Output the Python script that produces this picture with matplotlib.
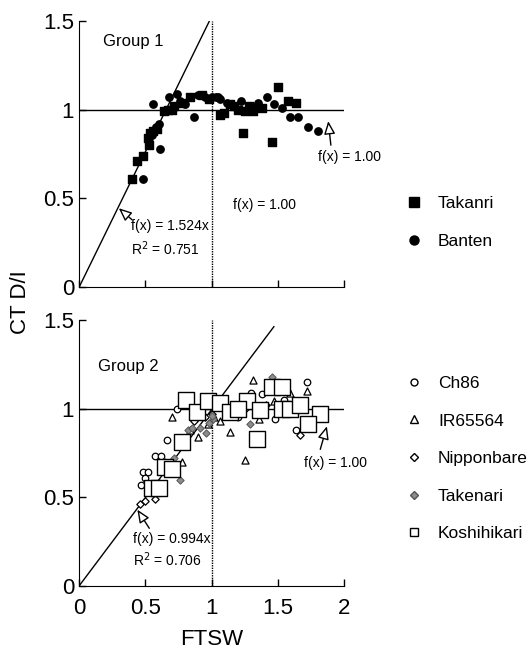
import numpy as np
import matplotlib.pyplot as plt
from matplotlib.lines import Line2D

plt.rcParams['font.family'] = ['Liberation Sans', 'DejaVu Sans']

# Group 1 data
takanri_x = [0.40, 0.435, 0.48, 0.52, 0.535, 0.56, 0.59, 0.64, 0.70, 0.775, 0.84, 0.925, 0.98, 1.065, 1.09,
             1.14, 1.20, 1.235, 1.28, 1.315, 1.38, 1.455, 1.50, 1.58, 1.64, 0.53, 0.67, 0.72, 1.17, 1.25]
takanri_y = [0.61, 0.71, 0.74, 0.84, 0.87, 0.88, 0.89, 0.99, 1.00, 1.04, 1.07, 1.08, 1.06, 0.97, 0.98,
             1.03, 1.00, 0.87, 1.02, 0.99, 1.01, 0.82, 1.13, 1.05, 1.04, 0.80, 1.00, 1.02, 1.02, 0.99]
banten_x = [0.48, 0.61, 0.60, 0.555, 0.68, 0.74, 0.80, 0.87, 1.03, 1.05, 1.065, 1.415, 1.35, 1.47, 1.53,
            1.59, 1.655, 1.73, 1.80, 0.53, 0.55, 0.58, 0.90, 0.95, 1.00, 1.12, 1.22, 1.30, 0.76]
banten_y = [0.61, 0.78, 0.92, 1.03, 1.07, 1.09, 1.03, 0.96, 1.07, 1.07, 1.06, 1.07, 1.04, 1.03, 1.01,
            0.96, 0.96, 0.90, 0.88, 0.82, 0.86, 0.90, 1.08, 1.07, 1.07, 1.04, 1.05, 1.02, 1.05]

# Group 2 data
ch86_x = [0.74, 0.66, 0.57, 0.62, 0.485, 0.52, 0.47, 0.50, 1.72, 1.30, 1.48, 1.64, 1.38, 1.10, 1.55, 0.90, 1.20, 1.45]
ch86_y = [1.00, 0.82, 0.73, 0.73, 0.64, 0.64, 0.57, 0.61, 1.15, 1.09, 0.94, 0.88, 1.08, 1.02, 1.05, 0.98, 0.95, 1.10]
ir_x = [0.70, 0.90, 1.31, 1.14, 1.25, 1.72, 1.36, 1.59, 0.78, 1.02, 0.97, 1.47, 1.06, 0.84]
ir_y = [0.95, 0.84, 1.16, 0.87, 0.71, 1.10, 0.94, 1.09, 0.70, 0.95, 0.91, 1.04, 0.93, 0.88]
nip_x = [0.46, 0.50, 0.57, 1.67, 0.87, 0.95, 1.41, 1.25, 1.00]
nip_y = [0.46, 0.48, 0.49, 0.85, 0.93, 0.95, 1.02, 1.00, 0.97]
take_x = [0.825, 0.85, 0.91, 0.96, 0.76, 0.72, 1.01, 1.00, 1.455, 1.29, 0.98, 1.18, 0.65]
take_y = [0.88, 0.89, 0.89, 0.86, 0.60, 0.72, 0.94, 0.96, 1.18, 0.91, 0.92, 0.96, 0.70]
kosh_x = [0.81, 0.89, 0.97, 1.065, 0.775, 0.65, 0.70, 0.55, 0.60, 1.14, 1.265, 1.365, 1.455, 1.53,
          1.53, 1.59, 1.67, 1.82, 1.73, 1.345, 1.20]
kosh_y = [1.05, 0.98, 1.04, 1.03, 0.81, 0.67, 0.66, 0.55, 0.55, 0.98, 1.04, 0.99, 1.12, 1.12,
          1.00, 1.00, 1.02, 0.97, 0.91, 0.83, 1.00]

slope1, slope2 = 1.524, 0.994

fig = plt.figure(figsize=(5.27, 6.5), dpi=100)
ax1 = fig.add_axes([0.150, 0.558, 0.503, 0.410])
ax2 = fig.add_axes([0.150, 0.0985, 0.503, 0.4095])

for ax in (ax1, ax2):
    ax.set_xlim(0, 2)
    ax.set_ylim(0, 1.5)
    ax.spines['top'].set_visible(False)
    ax.spines['right'].set_visible(False)
    ax.set_xticks([0, 0.5, 1, 1.5, 2])
    ax.set_yticks([0, 0.5, 1, 1.5])
    ax.set_yticklabels(['0', '0.5', '1', '1.5'])
    ax.tick_params(direction='in', length=5, labelsize=16, width=1)
    ax.tick_params(axis='x', pad=9)
    ax.axhline(1, xmin=0, xmax=1, color='black', lw=1)
    ax.plot([1, 1], [0, 1.5], color='black', lw=1, ls=(0, (1, 0.8)))

ax1.set_xticklabels([])
ax2.set_xticklabels(['0', '0.5', '1', '1.5', '2'])

ap = dict(arrowstyle='-|>,head_length=0.65,head_width=0.28', fc='white', ec='black',
          lw=1, mutation_scale=12, shrinkA=0, shrinkB=0)

# Group 1
xx = np.array([0, 1.5 / slope1])
ax1.plot(xx, slope1 * xx, color='black', lw=1)
ax1.scatter(takanri_x, takanri_y, marker='s', s=30, color='black', zorder=3)
ax1.scatter(banten_x, banten_y, marker='o', s=28, color='black', zorder=3)
ax1.text(0.18, 1.36, 'Group 1', fontsize=12)
ax1.text(0.39, 0.32, 'f(x) = 1.524x', fontsize=10)
ax1.text(0.39, 0.18, 'R$^2$ = 0.751', fontsize=10)
ax1.text(1.16, 0.44, 'f(x) = 1.00', fontsize=10)
ax1.text(1.80, 0.71, 'f(x) = 1.00', fontsize=10)
ax1.annotate('', xy=(0.30, 0.445), xytext=(0.40, 0.38), arrowprops=ap)
ax1.annotate('', xy=(1.88, 0.935), xytext=(1.90, 0.80), arrowprops=ap)

# Group 2
xx = np.array([0, 1.47])
ax2.plot(xx, slope2 * xx, color='black', lw=1)
ax2.scatter(ch86_x, ch86_y, marker='o', s=22, facecolor='white', edgecolor='black', lw=0.9, zorder=3)
ax2.scatter(ir_x, ir_y, marker='^', s=26, facecolor='white', edgecolor='black', lw=0.9, zorder=3)
ax2.scatter(nip_x, nip_y, marker='D', s=14, facecolor='white', edgecolor='black', lw=0.9, zorder=3)
ax2.scatter(take_x, take_y, marker='D', s=14, facecolor='#8c8c8c', edgecolor='#555555', lw=0.7, zorder=3)
ax2.scatter(kosh_x, kosh_y, marker='s', s=140, facecolor='white', edgecolor='black', lw=1, zorder=4)
ax2.text(0.14, 1.21, 'Group 2', fontsize=12)
ax2.text(0.41, 0.24, 'f(x) = 0.994x', fontsize=10)
ax2.text(0.41, 0.11, 'R$^2$ = 0.706', fontsize=10)
ax2.text(1.70, 0.67, 'f(x) = 1.00', fontsize=10)
ax2.annotate('', xy=(0.44, 0.43), xytext=(0.53, 0.325), arrowprops=ap)
ax2.annotate('', xy=(1.87, 0.90), xytext=(1.82, 0.77), arrowprops=ap)

ax2.set_xlabel('FTSW', fontsize=16, labelpad=7)
fig.text(0.038, 0.535, 'CT D/I', rotation=90, fontsize=16, va='center', ha='center')

# legends
h1 = [Line2D([], [], ls='', marker='s', ms=7, color='black'),
      Line2D([], [], ls='', marker='o', ms=6.5, color='black')]
ax1.legend(h1, ['Takanri', 'Banten'], loc='center left', bbox_to_anchor=(1.172, 0.243),
           frameon=False, fontsize=12.5, labelspacing=1.29, handletextpad=0.88, handlelength=1.0)
h2 = [Line2D([], [], ls='', marker='o', ms=5, mfc='white', mec='black'),
      Line2D([], [], ls='', marker='^', ms=5.5, mfc='white', mec='black'),
      Line2D([], [], ls='', marker='D', ms=4, mfc='white', mec='black'),
      Line2D([], [], ls='', marker='D', ms=4, mfc='#8c8c8c', mec='#555555'),
      Line2D([], [], ls='', marker='s', ms=6, mfc='white', mec='black')]
ax2.legend(h2, ['Ch86', 'IR65564', 'Nipponbare', 'Takenari', 'Koshihikari'], loc='center left',
           bbox_to_anchor=(1.172, 0.479), frameon=False, fontsize=12.5, labelspacing=1.29,
           handletextpad=0.88, handlelength=1.0)

fig.savefig('out.png', dpi=100)
